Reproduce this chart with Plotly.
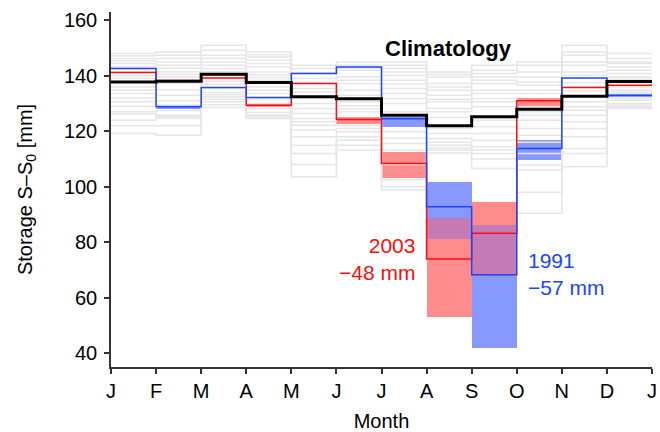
import plotly.graph_objects as go

month_ticks = ["J", "F", "M", "A", "M", "J", "J", "A", "S", "O", "N", "D", "J"]
tick_pos = list(range(13))

clim = [137.8, 138.0, 140.6, 137.6, 132.4, 131.7, 125.8, 122.0, 125.2, 127.9, 132.6, 137.9]
y2003 = [141.2, 138.3, 139.2, 129.4, 137.2, 124.2, 108.4, 73.9, 83.2, 131.0, 135.8, 136.6]
y1991 = [142.6, 128.8, 135.8, 132.2, 140.8, 143.2, 124.5, 92.8, 68.3, 113.8, 139.2, 133.0]

red_lo = [None, None, None, 128.8, None, 122.6, 103.0, 53.0, 67.8, 128.8, None, None]
red_hi = [None, None, None, 130.0, None, 125.2, 112.6, 88.6, 94.6, 132.0, None, None]
blue_lo = [None, 128.0, None, None, None, None, 121.6, 81.0, 42.0, 109.6, None, 132.3]
blue_hi = [None, 129.4, None, None, None, None, 125.2, 101.6, 86.2, 117.0, None, 133.6]

# other years, read per month (descending)
gray_jan = [148, 147.2, 146.2, 145.4, 144.4, 143.2, 141.5, 140, 139, 136, 134.8, 133.6, 132, 130.6, 129, 127, 126.2, 124, 122, 119.2]
gray_feb = [148.6, 147.4, 146.2, 145, 143.8, 142.7, 141.5, 140.5, 139.6, 137.2, 135, 133, 131, 129.5, 127.5, 125.8, 125.2, 124.7, 122, 118.6]
gray_mar = [151, 149.2, 147.4, 146.2, 145, 143.8, 142.6, 141.5, 140, 139, 138, 137, 135.5, 134, 133.2, 132.4, 131.5, 130.6, 129.6, 128.6]
gray_apr = [148.6, 147.6, 146.8, 145.6, 144.4, 143.2, 141.4, 140.4, 139.4, 138.4, 136, 134.8, 133.6, 131.5, 130, 128.2, 126.8, 125.8, 125.2, 124.6]
gray_may = [143.8, 142.6, 141, 139, 137.5, 135.4, 134.2, 132, 130, 128.2, 126.4, 124.6, 123.4, 122.2, 120.5, 118, 115, 112, 108, 103.6]
gray_jun = [145, 143.8, 142.8, 142, 139.6, 138.4, 137.2, 134.8, 133, 130.6, 129.2, 128, 127, 122.2, 121, 119.8, 118, 116.8, 115, 113.2]
gray_jul = [145, 143.8, 142.6, 141.4, 140.2, 138.4, 137, 135.4, 133.6, 131.8, 130, 127, 119.8, 117.5, 115.6, 113.2, 108, 102.4, 100, 98.8]
gray_aug = [141.4, 140.5, 139.6, 137.2, 136, 134.8, 133, 131.5, 130.6, 128.2, 127, 125, 121, 119.2, 117.4, 116, 115, 114, 113.2, 112.2]
gray_sep = [143.8, 142, 140.8, 139.6, 138.4, 137.2, 134.8, 133.6, 131.8, 130.6, 128.8, 124, 121.6, 119.2, 116.8, 114.4, 113.2, 112, 110, 106.6]
gray_oct = [145, 143.8, 141.4, 139.6, 137.8, 136.6, 134.8, 133.6, 128.8, 127, 125.8, 124, 121, 118.6, 116, 112, 107.8, 106, 98, 90.4]
gray_nov = [151, 148.6, 147.4, 145, 143.8, 141.4, 140.2, 137.5, 136, 134.5, 130.6, 128.8, 127.6, 125.8, 123.4, 121, 118, 113.8, 112, 107.2]
gray_dec = [148, 146.2, 145, 144.4, 143.2, 142, 140.8, 139.6, 138.8, 136, 134.8, 134.2, 133.5, 132, 131.2, 130, 129.5, 128.8, 128.5, 128.2]

gray_months = [gray_jan, gray_feb, gray_mar, gray_apr, gray_may, gray_jun,
               gray_jul, gray_aug, gray_sep, gray_oct, gray_nov, gray_dec]

RED = "#ff0d0d"
BLUE = "#1a46ff"
FONT = "Liberation Sans, Arial, sans-serif"

fig = go.Figure()

def step(vals):
    return list(range(13)), list(vals) + [vals[-1]]

for i in range(len(gray_jan)):
    vals = [m[i] for m in gray_months]
    xs, ys = step(vals)
    fig.add_trace(go.Scatter(x=xs, y=ys, mode="lines", line=dict(color="#e6e6e6", width=1.5, shape="hv"),
                             hoverinfo="skip", showlegend=False))

centers = [i + 0.5 for i in range(12)]

def band(lo, hi):
    base, h = [], []
    for l, u in zip(lo, hi):
        if l is None or u is None or u <= l:
            base.append(None); h.append(None)
        else:
            base.append(l); h.append(u - l)
    return base, h

# overlap of the two ranges
ov_lo, ov_hi = [], []
for rl, rh, bl, bh in zip(red_lo, red_hi, blue_lo, blue_hi):
    if None in (rl, rh, bl, bh):
        ov_lo.append(None); ov_hi.append(None)
    else:
        ov_lo.append(max(rl, bl)); ov_hi.append(min(rh, bh))

for lo, hi, col in [(blue_lo, blue_hi, "rgba(0,38,255,0.47)"),
                    (red_lo, red_hi, "rgba(255,0,0,0.45)"),
                    (ov_lo, ov_hi, "#c47ab4")]:
    b, h = band(lo, hi)
    fig.add_trace(go.Bar(x=centers, y=h, base=b, width=1, marker=dict(color=col, line=dict(width=0)),
                         showlegend=False, hoverinfo="skip"))

xs, ys = step(y2003)
fig.add_trace(go.Scatter(x=xs, y=ys, mode="lines", line=dict(color=RED, width=1.5, shape="hv"), showlegend=False))
xs, ys = step(y1991)
fig.add_trace(go.Scatter(x=xs, y=ys, mode="lines", line=dict(color=BLUE, width=1.5, shape="hv"), showlegend=False))
xs, ys = step(clim)
fig.add_trace(go.Scatter(x=xs, y=ys, mode="lines", line=dict(color="black", width=3, shape="hv"), showlegend=False))

fig.add_annotation(x=7.48, y=149.9, xref="x", yref="y", text="<b>Climatology</b>", showarrow=False,
                   font=dict(family=FONT, size=22, color="black"), xanchor="center", yanchor="middle")
fig.add_annotation(x=6.78, y=74, xref="x", yref="y", text="2003<br>\u221248 mm", showarrow=False, align="right",
                   font=dict(family=FONT, size=21, color=RED), xanchor="right", yanchor="middle")
fig.add_annotation(x=9.2, y=68.6, xref="x", yref="y", text="1991<br>\u221257 mm", showarrow=False, align="left",
                   font=dict(family=FONT, size=21, color=BLUE), xanchor="left", yanchor="middle")

fig.update_layout(
    width=660, height=432,
    margin=dict(l=111, r=8, t=12, b=65),
    paper_bgcolor="white", plot_bgcolor="white",
    barmode="overlay", bargap=0,
    font=dict(family=FONT, size=20, color="black"),
    showlegend=False,
)
fig.update_xaxes(range=[0, 12], tickvals=tick_pos, ticktext=month_ticks, showgrid=False, zeroline=False,
                 showline=True, linecolor="#333333", linewidth=1.5, ticks="outside", ticklen=5, tickwidth=1.5,
                 tickcolor="#333333", tickfont=dict(size=20), automargin=False,
                 title=dict(text="Month", font=dict(size=20), standoff=13))
fig.update_yaxes(range=[35, 163], tickvals=[40, 60, 80, 100, 120, 140, 160], showgrid=False, zeroline=False,
                 showline=True, linecolor="#333333", linewidth=1.5, ticks="outside", ticklen=5, tickwidth=1.5,
                 tickcolor="#333333", tickfont=dict(size=20), ticklabelstandoff=3, automargin=False,
                 title=dict(text="Storage S\u2013S<sub>0</sub> [mm]", font=dict(size=20), standoff=26))

fig.write_html("out.html")
